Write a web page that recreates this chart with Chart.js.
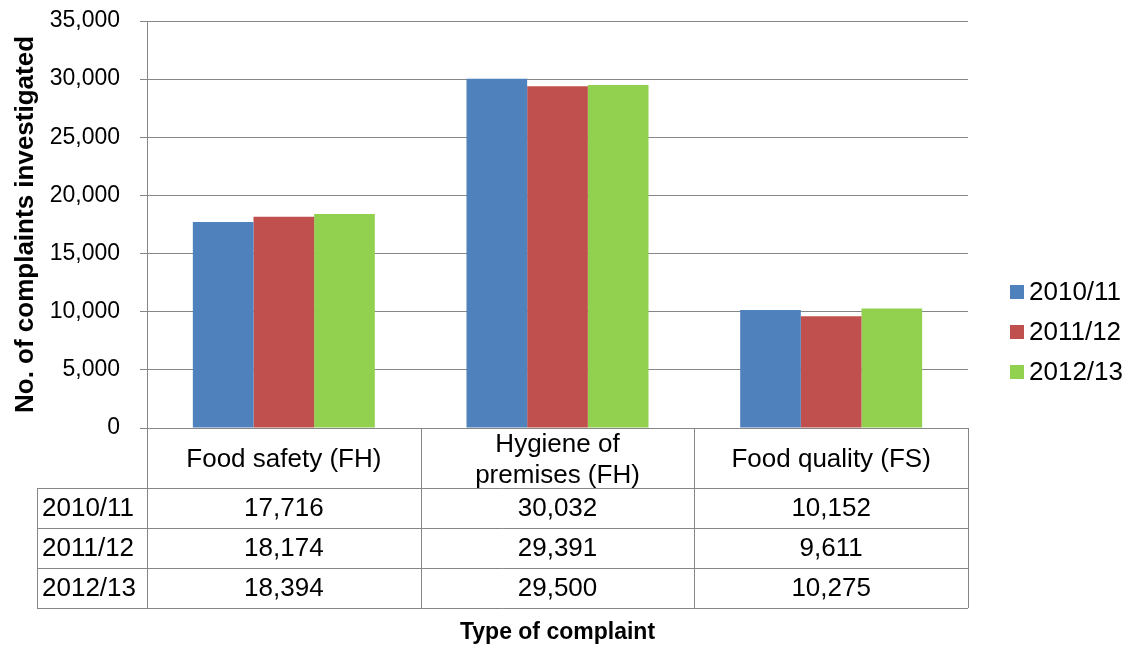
<!DOCTYPE html>
<html>
<head>
<meta charset="utf-8">
<script src="https://cdn.jsdelivr.net/npm/chart.js@4.4.1/dist/chart.umd.min.js"></script>
<style>
    html, body { margin: 0; padding: 0; background: #fff; }
    #wrap { width: 1136px; height: 648px; }
</style>
</head>
<body>
<div id="wrap"><canvas id="chart"></canvas></div>
<script>
// Data
const categories = ['Food safety (FH)', ['Hygiene of', 'premises (FH)'], 'Food quality (FS)'];
const years = ['2010/11', '2011/12', '2012/13'];
const values2010 = [17716, 30032, 10152];
const values2011 = [18174, 29391, 9611];
const values2012 = [18394, 29500, 10275];
const colors = ['#4F81BD', '#C0504D', '#92D050'];

const FONT = "'Liberation Sans', Arial, sans-serif";
const GRID = '#868686';
const fmt = v => v.toLocaleString('en-US');

// Data table under the plot + legend on the right
const tablePlugin = {
    id: 'dataTable',
    afterDraw(chart) {
        const ctx = chart.ctx;
        const area = chart.chartArea;
        const x = chart.scales.x;
        const n = categories.length;
        const colW = (area.right - area.left) / n;
        const headTop = area.bottom;
        const headBottom = headTop + 60;
        const rowH = 40;
        const tableBottom = headBottom + rowH * years.length;
        const leftCol = 37;

        ctx.save();
        ctx.strokeStyle = GRID;
        ctx.lineWidth = 1;
        ctx.beginPath();
        // vertical lines
        for (let i = 0; i <= n; i++) {
            const px = Math.round(area.left + colW * i) + 0.5;
            ctx.moveTo(px, headTop);
            ctx.lineTo(px, tableBottom);
        }
        ctx.moveTo(leftCol + 0.5, headBottom);
        ctx.lineTo(leftCol + 0.5, tableBottom);
        // horizontal lines
        for (let r = 0; r <= years.length; r++) {
            const py = Math.round(headBottom + rowH * r) + 0.5;
            ctx.moveTo(leftCol, py);
            ctx.lineTo(area.right, py);
        }
        ctx.stroke();

        ctx.fillStyle = '#000';
        ctx.font = '26px ' + FONT;
        ctx.textAlign = 'center';
        ctx.textBaseline = 'middle';
        categories.forEach((c, i) => {
            const cx = x.getPixelForValue(i);
            const lines = Array.isArray(c) ? c : [c];
            const lh = 31;
            const y0 = (headTop + headBottom) / 2 + 2 - (lines.length - 1) * lh / 2;
            lines.forEach((l, k) => ctx.fillText(l, cx, y0 + k * lh));
        });
        chart.data.datasets.forEach((ds, r) => {
            const cy = headBottom + rowH * r + rowH / 2 + 1;
            ctx.textAlign = 'left';
            ctx.fillText(ds.label, leftCol + 5, cy);
            ctx.textAlign = 'center';
            ds.data.forEach((v, i) => ctx.fillText(fmt(v), x.getPixelForValue(i), cy));
        });

        // legend
        chart.data.datasets.forEach((ds, r) => {
            const cy = 292 + r * 40;
            ctx.fillStyle = ds.backgroundColor;
            ctx.fillRect(1010, cy - 7, 14, 14);
            ctx.fillStyle = '#000';
            ctx.textAlign = 'left';
            ctx.fillText(ds.label, 1029, cy + 1);
        });
        ctx.restore();
    }
};

new Chart(document.getElementById('chart'), {
    type: 'bar',
    data: {
        labels: categories,
        datasets: [
            { label: years[0], data: values2010, backgroundColor: colors[0] },
            { label: years[1], data: values2011, backgroundColor: colors[1] },
            { label: years[2], data: values2012, backgroundColor: colors[2] }
        ]
    },
    options: {
        responsive: true,
        maintainAspectRatio: false,
        animation: false,
        devicePixelRatio: 1,
        layout: { padding: { top: 21, right: 168, bottom: 0, left: 0 } },
        datasets: { bar: { categoryPercentage: 0.665, barPercentage: 1 } },
        plugins: { legend: { display: false }, tooltip: { enabled: false } },
        scales: {
            x: {
                ticks: { display: false },
                grid: { display: false },
                border: { display: false },
                afterFit: s => { s.height = 220; },
                title: {
                    display: true,
                    text: 'Type of complaint',
                    color: '#000',
                    font: { family: FONT, size: 23, weight: 'bold' },
                    padding: { top: 0, bottom: 2 }
                }
            },
            y: {
                min: 0,
                max: 35000,
                ticks: {
                    stepSize: 5000,
                    color: '#000',
                    font: { family: FONT, size: 23 },
                    padding: 20,
                    callback: v => fmt(v)
                },
                grid: { color: GRID, tickLength: 7 },
                border: { color: GRID },
                afterFit: s => {
                    s.width = 147;
                    s.paddingTop = 0;
                    s.paddingBottom = 0;
                },
                title: {
                    display: true,
                    text: 'No. of complaints investigated',
                    color: '#000',
                    font: { family: FONT, size: 26, weight: 'bold' },
                    padding: { top: 10, bottom: 0 }
                }
            }
        }
    },
    plugins: [tablePlugin]
});
</script>
</body>
</html>
